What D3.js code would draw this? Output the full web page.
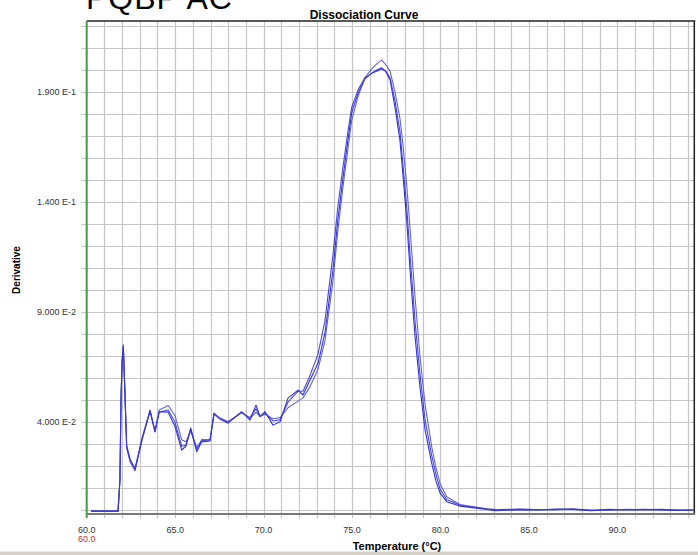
<!DOCTYPE html>
<html><head><meta charset="utf-8">
<script src="https://cdn.jsdelivr.net/npm/d3@7"></script>
<style>html,body{margin:0;padding:0;background:#fff;}svg{display:block;}</style>
</head><body>
<svg id="chart" width="698" height="555"></svg>
<script>
// ---- data ----
const chartTitle = "Dissociation Curve";
const sampleName = "PQBP AC";
const xLabel = "Temperature (\u00B0C)";
const yLabel = "Derivative";
const xTickValues = [60, 65, 70, 75, 80, 85, 90];
const xTickLabels = ["60.0", "65.0", "70.0", "75.0", "80.0", "85.0", "90.0"];
const yTickValues = [0.04, 0.09, 0.14, 0.19];
const yTickLabels = ["4.000 E-2", "9.000 E-2", "1.400 E-1", "1.900 E-1"];

const temps = [60.24, 61.77, 61.83, 61.88, 61.94, 62.0, 62.07, 62.14, 62.26, 62.45, 62.73, 63.13, 63.58, 63.86, 64.1, 64.61, 64.99, 65.37, 65.61, 65.88, 66.22, 66.5, 66.97, 67.2, 67.53, 67.99, 68.76, 69.23, 69.57, 69.8, 70.08, 70.53, 70.93, 71.38, 71.95, 72.23, 72.62, 73.08, 73.47, 73.92, 74.2, 74.49, 74.75, 74.98, 75.34, 75.73, 76.11, 76.4, 76.68, 76.9, 77.15, 77.43, 77.71, 77.88, 78.09, 78.28, 78.56, 78.84, 79.13, 79.5, 79.75, 79.98, 80.35, 81.1, 82.61, 83.18, 84.5, 85.5, 86.5, 87.5, 88.5, 89.5, 90.5, 91.5, 92.5, 93.5, 94.3];

const wellA = [-0.0005, -0.0005, 0.007, 0.014, 0.051, 0.068, 0.075, 0.059, 0.029, 0.023, 0.018, 0.032, 0.0455, 0.0356, 0.0447, 0.0445, 0.038, 0.0273, 0.029, 0.0373, 0.0265, 0.031, 0.0314, 0.0441, 0.0414, 0.0395, 0.0447, 0.0409, 0.0477, 0.0424, 0.0447, 0.0386, 0.0401, 0.0509, 0.0545, 0.0523, 0.059, 0.0668, 0.0805, 0.109, 0.132, 0.151, 0.167, 0.1805, 0.1895, 0.196, 0.1986, 0.2, 0.201, 0.1995, 0.1955, 0.183, 0.168, 0.152, 0.132, 0.109, 0.079, 0.056, 0.0364, 0.0214, 0.013, 0.0077, 0.0038, 0.0018, 0.0003, -0.0003, 0.0002, 0.0, 0.0004, 0.0003, -0.0003, 0.0002, 0.0001, 0.0003, 0.0, -0.0002, 0.0];

const wellB = [-0.0005, -0.0005, 0.007, 0.014, 0.05, 0.067, 0.074, 0.058, 0.028, 0.022, 0.018, 0.033, 0.0452, 0.036, 0.0455, 0.0475, 0.043, 0.032, 0.031, 0.036, 0.0285, 0.0315, 0.032, 0.0435, 0.0415, 0.0398, 0.0445, 0.0415, 0.0445, 0.0425, 0.0435, 0.0415, 0.042, 0.0465, 0.0495, 0.051, 0.056, 0.064, 0.077, 0.104, 0.127, 0.147, 0.163, 0.177, 0.188, 0.1965, 0.2005, 0.2028, 0.2045, 0.2025, 0.1995, 0.19, 0.178, 0.166, 0.148, 0.128, 0.097, 0.07, 0.048, 0.029, 0.019, 0.012, 0.006, 0.0025, 0.0006, 0.0002, 0.0004, 0.0001, 0.0002, 0.0005, 0.0001, -0.0001, 0.0003, 0.0001, 0.0002, 0.0001, 0.0];

const wellC = [-0.0005, -0.0005, 0.007, 0.014, 0.05, 0.067, 0.074, 0.058, 0.029, 0.023, 0.019, 0.032, 0.0448, 0.0355, 0.0445, 0.0455, 0.04, 0.029, 0.0295, 0.0365, 0.0275, 0.032, 0.0318, 0.0438, 0.0418, 0.0402, 0.0442, 0.042, 0.046, 0.0428, 0.0442, 0.0405, 0.041, 0.049, 0.054, 0.054, 0.061, 0.071, 0.086, 0.116, 0.138, 0.156, 0.171, 0.183, 0.191, 0.1965, 0.1985, 0.1995, 0.2005, 0.1995, 0.1965, 0.186, 0.172, 0.157, 0.138, 0.116, 0.086, 0.062, 0.041, 0.025, 0.016, 0.0095, 0.0048, 0.0022, 0.0005, 0.0, 0.0003, 0.0002, 0.0001, 0.0004, -0.0002, 0.0003, 0.0, 0.0002, 0.0003, -0.0001, 0.0];

const wells = [
  {name: "A", values: wellA, color: "#1c1cd4"},
  {name: "B", values: wellB, color: "#5252d8"},
  {name: "C", values: wellC, color: "#3636d2"}
];

// ---- drawing ----
const svg = d3.select("#chart");
const pLeft = 86.7, pRight = 694.3, pTop = 21, pBottom = 514;
const x = d3.scaleLinear().domain([60, 94.35]).range([pLeft, pRight]);
const y = d3.scaleLinear().domain([-0.0018, 0.2223]).range([pBottom, pTop]);
const font = "Arial, 'Liberation Sans', sans-serif";

// bottom window bar
svg.append("rect").attr("x", 0).attr("y", 552).attr("width", 698).attr("height", 3).attr("fill", "#d4d0c8");
svg.append("line").attr("x1", 0).attr("x2", 698).attr("y1", 551.5).attr("y2", 551.5).attr("stroke", "#ece9e0");

// big sample name (cut at top)
svg.append("text").attr("x", 86).attr("y", 9)
  .attr("font-family", font).attr("font-size", 32)
  .attr("letter-spacing", 1).attr("fill", "#000").text(sampleName);

// title
svg.append("text").attr("x", 364).attr("y", 19).attr("text-anchor", "middle")
  .attr("font-family", font).attr("font-size", 12)
  .attr("font-weight", "bold").attr("fill", "#000").text(chartTitle);

// grid
const gGrid = svg.append("g");
const hVals = d3.range(0, 0.2201, 0.01);
gGrid.selectAll("line.h").data(hVals).join("line")
  .attr("x1", 81).attr("x2", pRight).attr("y1", d => Math.round(y(d)) + 0.5).attr("y2", d => Math.round(y(d)) + 0.5)
  .attr("stroke", "#c6c6c6").attr("stroke-width", 1.2);
const vVals = d3.range(61, 94.5, 1);
gGrid.selectAll("line.v").data(vVals).join("line")
  .attr("y1", pTop).attr("y2", 518).attr("x1", d => Math.round(x(d)) + 0.5).attr("x2", d => Math.round(x(d)) + 0.5)
  .attr("stroke", "#c6c6c6").attr("stroke-width", 1.2);

// borders
svg.append("line").attr("x1", pLeft).attr("x2", pRight + 1).attr("y1", pTop).attr("y2", pTop).attr("stroke", "#222").attr("stroke-width", 1.5);
svg.append("line").attr("x1", pRight).attr("x2", pRight).attr("y1", pTop).attr("y2", pBottom).attr("stroke", "#222").attr("stroke-width", 1.5);
svg.append("line").attr("x1", pLeft).attr("x2", pRight + 1).attr("y1", pBottom).attr("y2", pBottom).attr("stroke", "#7a7a7a").attr("stroke-width", 2);
svg.append("line").attr("x1", pLeft).attr("x2", pLeft).attr("y1", pTop).attr("y2", 518).attr("stroke", "#3aa23a").attr("stroke-width", 2);

// axes labels
svg.append("g").selectAll("text").data(xTickValues).join("text")
  .attr("x", d => x(d)).attr("y", 533).attr("text-anchor", "middle")
  .attr("font-family", font).attr("font-size", 9).attr("fill", "#333")
  .text((d, i) => xTickLabels[i]);
svg.append("text").attr("x", x(60)).attr("y", 542).attr("text-anchor", "middle")
  .attr("font-family", font).attr("font-size", 9).attr("fill", "#d03030").text(xTickLabels[0]);
svg.append("g").selectAll("text").data(yTickValues).join("text")
  .attr("x", 76).attr("y", d => y(d) + 3).attr("text-anchor", "end")
  .attr("font-family", font).attr("font-size", 9).attr("fill", "#333")
  .text((d, i) => yTickLabels[i]);

svg.append("text").attr("x", 397).attr("y", 550).attr("text-anchor", "middle")
  .attr("font-family", font).attr("font-size", 11).attr("font-weight", "bold").attr("fill", "#000").text(xLabel);
svg.append("text").attr("transform", "translate(20,270) rotate(-90)").attr("text-anchor", "middle")
  .attr("font-family", font).attr("font-size", 10).attr("font-weight", "bold").attr("fill", "#000").text(yLabel);

// curves
const line = d3.line().x((d, i) => x(temps[i])).y(d => y(d)).curve(d3.curveLinear);
svg.append("g").selectAll("path").data(wells).join("path")
  .attr("d", d => line(d.values)).attr("fill", "none")
  .attr("stroke", d => d.color).attr("stroke-width", 1.1).attr("stroke-opacity", 0.9)
  .attr("stroke-linejoin", "round");
</script>
</body></html>
